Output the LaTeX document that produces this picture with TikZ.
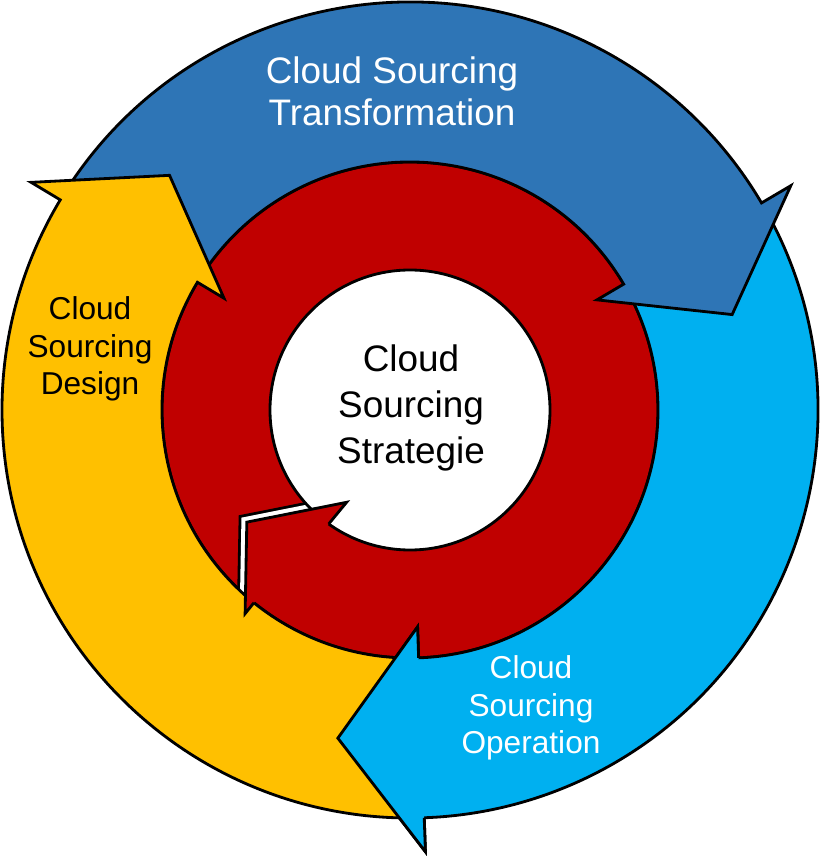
\documentclass[tikz,border=0pt]{standalone}
\usepackage{fontspec}
\setmainfont{Liberation Sans}
\definecolor{transblue}{RGB}{46,117,182}
\definecolor{opcyan}{RGB}{0,176,240}
\definecolor{designyellow}{RGB}{255,192,0}
\definecolor{stratred}{RGB}{192,0,0}
\newcommand{\rOut}{8.16cm}
\newcommand{\rIn}{4.96cm}
\newcommand{\rWhite}{2.8cm}
\newcommand{\rBarbOut}{8.84cm}
\newcommand{\rBarbIn}{4.34cm}
\newcommand{\rTip}{6.72cm}
% #1 colour, #2 tail angle, #3 base angle of the head, #4 tip angle
\newcommand{\ringarrow}[4]{%
  \draw[ringline,fill=#1] (#2:\rOut) arc[start angle=#2,end angle=#3,radius=\rOut]
    -- (#3:\rBarbOut) -- (#4:\rTip) -- (#3:\rBarbIn) -- (#3:\rIn)
    arc[start angle=#3,end angle=#2,radius=\rIn] -- cycle;}

\begin{document}
\begin{tikzpicture}[ringline/.style={draw=black,line width=1.6pt,line join=miter},
    bigwhite/.style={text=white,align=center,font=\fontsize{21}{24}\selectfont},
    smallwhite/.style={text=white,align=center,font=\fontsize{18}{21.5}\selectfont},
    smallblack/.style={text=black,align=center,font=\fontsize{18}{21.5}\selectfont},
    bigblack/.style={text=black,align=center,font=\fontsize{21}{26}\selectfont}]
    \useasboundingbox (-8.2,-8.92) rectangle (8.2,8.2);

    % inner ring
    \draw[ringline,fill=stratred] (0,0) circle (\rIn);
    \begin{scope}
      \clip (0,0) circle (\rIn);
      \draw[black,line width=9.4pt] (231:5.24cm) -- (214.5:3.96cm) -- (235.5:2.24cm);
      \draw[white,line width=6.2pt] (231:5.24cm) -- (214.5:3.96cm) -- (235.5:2.24cm);
    \end{scope}
    \draw[ringline,fill=white] (0,0) circle (\rWhite);

    % outer arrows
    \ringarrow{opcyan}{29.5}{-88}{-102.4}
    \ringarrow{transblue}{148}{30.5}{16.5}
    \ringarrow{designyellow}{271}{149}{135.7}

    % head of the operation arrow lies on top of the design tail
    \fill[opcyan] (-88:\rOut) -- (-88:\rBarbOut) -- (-102.4:\rTip) -- (-88:\rBarbIn) -- (-88:\rIn) -- cycle;
    \draw[ringline] (-88:\rOut) -- (-88:\rBarbOut) -- (-102.4:\rTip) -- (-88:\rBarbIn) -- (-88:\rIn);

    % head of the strategy ring
    \fill[stratred] (231:\rIn) -- (231:5.24cm) -- (214.5:3.96cm) -- (235.5:2.24cm) -- (234.5:\rWhite) -- cycle;
    \draw[ringline] (231:\rIn) -- (231:5.24cm) -- (214.5:3.96cm) -- (235.5:2.24cm) -- (234.5:\rWhite);

    \node[bigwhite] (translabel) at (-0.36,6.38) {Cloud Sourcing\\Transformation};
    \node[smallblack] (designlabel) at (-6.4,1.22) {Cloud\\Sourcing\\Design};
    \node[bigblack] (strategielabel) at (0.02,0.04) {Cloud\\Sourcing\\Strategie};
    \node[smallwhite] (operationlabel) at (2.42,-5.96) {Cloud\\Sourcing\\Operation};
  \end{tikzpicture}
\end{document}
